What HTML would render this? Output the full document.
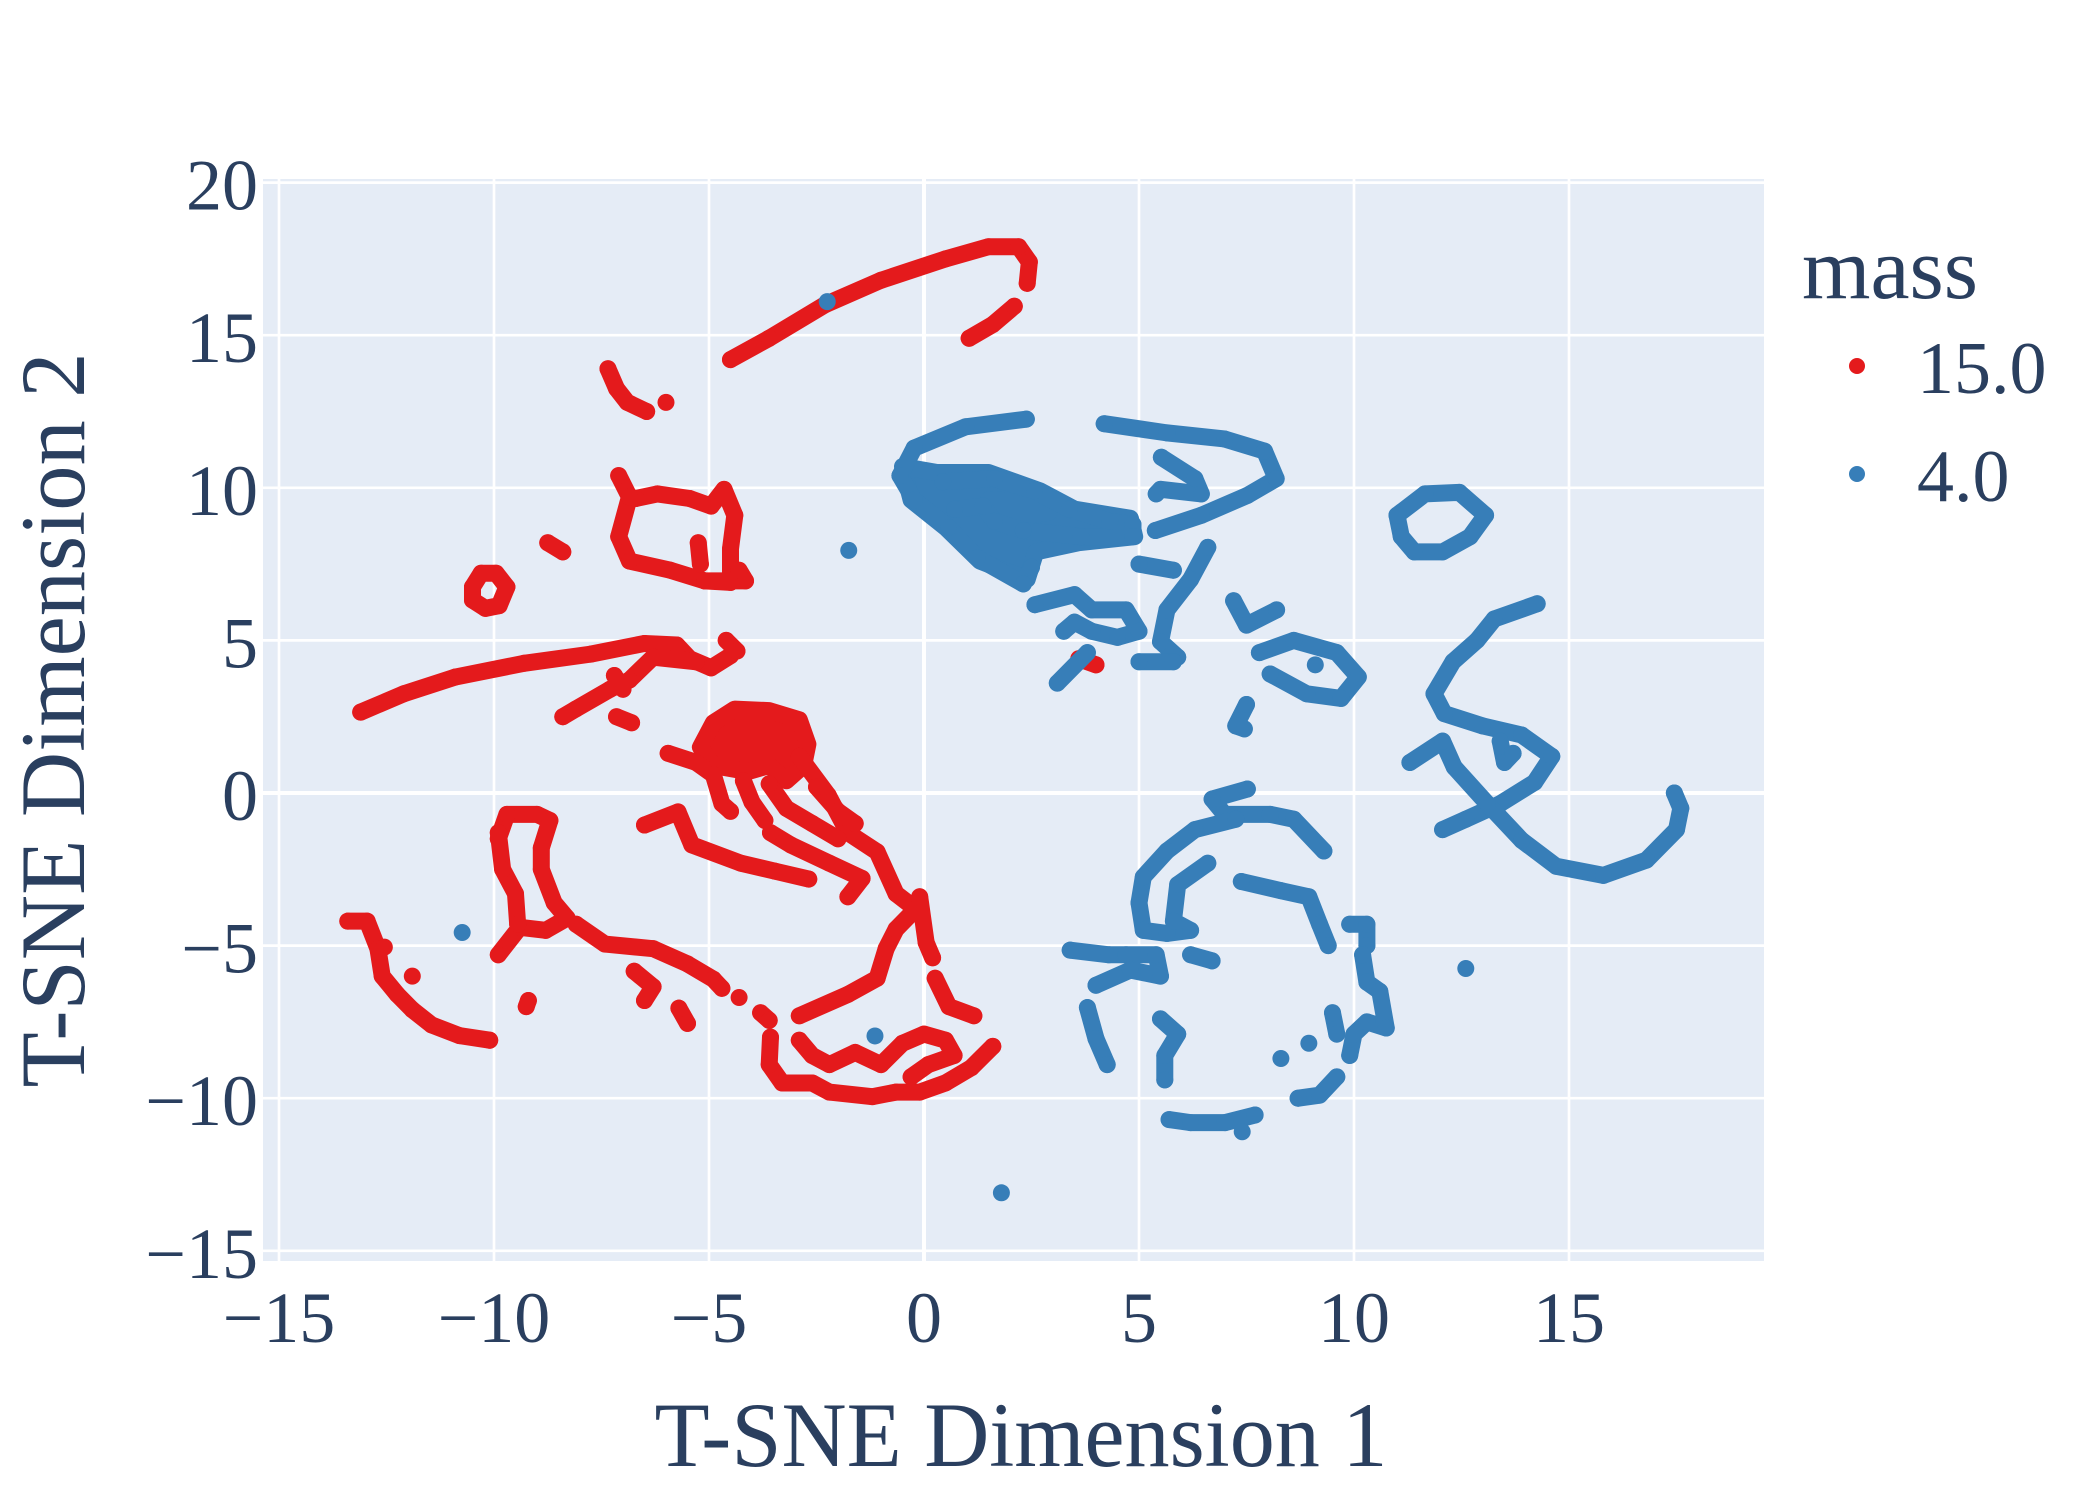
<!DOCTYPE html>
<html><head><meta charset="utf-8"><style>
html,body{margin:0;padding:0;background:#fff;}
svg{display:block;font-family:"Liberation Serif",serif;}
</style></head><body>
<svg id="chart" width="2100" height="1500" viewBox="0 0 2100 1500" xmlns="http://www.w3.org/2000/svg">
<rect x="263" y="179" width="1501" height="1082" fill="#e5ecf6"/>
<g id="grid"></g>
<g id="marks"></g>
<g id="axes"></g>
<text x="1021" y="1466" font-size="92" fill="#2a3f5f" text-anchor="middle" textLength="733" lengthAdjust="spacingAndGlyphs">T-SNE Dimension 1</text>
<text x="84" y="720" font-size="92" fill="#2a3f5f" text-anchor="middle" transform="rotate(-90 84 720)" textLength="735" lengthAdjust="spacingAndGlyphs">T-SNE Dimension 2</text>
<g>
<text x="1802" y="298" font-size="88" fill="#2a3f5f">mass</text>
<circle cx="1857" cy="366" r="8" fill="#e41a1c"/>
<text x="1917" y="393" font-size="74" fill="#2a3f5f">15.0</text>
<circle cx="1857" cy="474" r="8" fill="#377eb8"/>
<text x="1917" y="501" font-size="74" fill="#2a3f5f">4.0</text>
</g>
</svg>
<script>
const xTicks=[-15,-10,-5,0,5,10,15];
const yTicks=[-15,-10,-5,0,5,10,15,20];
const xTickLabels=["\u221215","\u221210","\u22125","0","5","10","15"];
const yTickLabels=["\u221215","\u221210","\u22125","0","5","10","15","20"];
const redDense=[[-4.9,2.3],[-4.4,2.75],[-3.6,2.7],[-2.9,2.4],[-2.7,1.6],[-2.8,0.9],[-3.2,0.4],[-3.6,0.9],[-4.1,0.7],[-4.9,0.9],[-5.2,1.5]];
const blueDense=[[-0.5,10.7],[0.3,10.5],[1.5,10.5],[2.7,9.9],[3.5,9.3],[4.8,9.0],[4.9,8.4],[3.6,8.2],[2.6,7.9],[2.4,7.0],[1.3,7.6],[0.5,8.7],[-0.3,9.6]];
const blueHole=[[1.5,9.6],[2.5,9.55],[2.9,9.2],[2.2,9.05],[1.6,9.2]];
const redSeries=[
[[-4.5,14.2],[-3.6,14.9],[-2.3,16.0],[-1,16.8],[0.5,17.5],[1.5,17.9],[2.2,17.9],[2.45,17.4],[2.4,16.7]],
[[1.05,14.9],[1.6,15.35],[2.1,15.95]],
[[-7.35,13.9],[-7.15,13.25],[-6.9,12.8],[-6.45,12.5]],
[[-6.0,12.8]],
[[-7.1,10.4],[-6.85,9.7],[-7.1,8.4],[-6.85,7.6],[-5.9,7.3],[-5.1,6.95],[-4.5,6.9],[-4.5,8.0],[-4.4,9.1],[-4.65,9.95],[-4.95,9.4],[-5.45,9.65],[-6.2,9.8],[-6.7,9.65],[-6.85,9.7]],
[[-5.1,6.95],[-4.15,6.95],[-4.3,7.3]],[[-5.2,7.5],[-5.25,8.2]],
[[-10.5,6.75],[-10.3,7.2],[-9.95,7.2],[-9.7,6.75],[-9.88,6.14],[-10.2,6.05],[-10.5,6.32],[-10.5,6.75]],
[[-8.75,8.2],[-8.4,7.9]],
[[-13.1,2.65],[-12.1,3.25],[-10.9,3.8],[-9.3,4.25],[-7.75,4.55],[-6.5,4.9],[-5.75,4.85],[-5.45,4.4],[-4.95,4.1],[-4.5,4.5]],
[[-4.6,5.0],[-4.35,4.65]],
[[-5.3,4.3],[-6.3,4.45],[-6.85,3.7],[-7.3,3.4],[-8.1,2.75],[-8.4,2.5]],
[[-7.2,3.85],[-7.0,3.4]],[[-7.15,2.5],[-6.8,2.3]],
[[-5.95,1.3],[-5.3,1.0],[-4.9,0.6],[-4.7,-0.35],[-4.5,-0.6]],
[[-2.9,1.2],[-2.23,-0.07],[-1.77,-1.3],[-1.09,-1.93],[-0.65,-3.3],[-0.19,-3.8],[-0.65,-4.46],[-0.88,-5.1],[-1.09,-6.07],[-1.77,-6.6],[-2.9,-7.3]],
[[-0.1,-3.4],[0.05,-4.9],[0.2,-5.4]],
[[0.26,-6.07],[0.58,-7.0],[1.16,-7.3]],
[[-6.5,-1.05],[-5.72,-0.62],[-5.4,-1.7],[-4.26,-2.3],[-3.47,-2.56],[-2.68,-2.82]],
[[-3.57,-1.3],[-3.1,-1.7],[-2.2,-2.3],[-1.44,-2.8],[-1.77,-3.4]],
[[-3.6,0.3],[-3.2,-0.5],[-2.6,-1.0],[-2.0,-1.5]],
[[-4.2,0.4],[-4.0,-0.3],[-3.7,-0.9]],[[-2.5,0.2],[-2.0,-0.6],[-1.6,-1.0]],
[[-3.57,-8.0],[-3.6,-8.9],[-3.3,-9.5],[-2.6,-9.5],[-2.2,-9.8],[-1.2,-9.95],[-0.65,-9.8],[-0.1,-9.8],[0.5,-9.5],[1.1,-9.0],[1.6,-8.3]],
[[-2.9,-8.1],[-2.6,-8.6],[-2.2,-8.9],[-1.6,-8.5],[-1.0,-8.9],[-0.5,-8.2],[0.0,-7.9],[0.5,-8.1],[0.7,-8.6],[0.1,-8.9],[-0.3,-9.3]],
[[-9.9,-1.5],[-9.7,-0.7],[-9.0,-0.7],[-8.7,-0.9],[-8.9,-1.8],[-8.9,-2.5],[-8.6,-3.6],[-8.3,-4.1],[-8.8,-4.5],[-9.4,-4.4],[-9.9,-5.3]],
[[-9.9,-1.3],[-9.8,-2.5],[-9.5,-3.3],[-9.45,-4.3]],
[[-8.09,-4.3],[-7.42,-4.95],[-6.3,-5.1],[-5.5,-5.6],[-4.9,-6.1],[-4.7,-6.4]],
[[-6.74,-5.84],[-6.3,-6.35],[-6.5,-6.8]],[[-5.7,-7.05],[-5.5,-7.55]],
[[-4.3,-6.7]],[[-3.8,-7.2],[-3.6,-7.45]],
[[-9.2,-6.8],[-9.25,-7.0]],
[[-13.4,-4.2],[-12.95,-4.2],[-12.7,-5.1],[-12.6,-6.0],[-12.25,-6.6],[-11.9,-7.1],[-11.45,-7.6],[-10.8,-7.95],[-10.1,-8.1]],
[[-11.9,-6.0]],[[-12.55,-5.05]],
[[3.6,4.4],[4.0,4.2]]
];
const blueSeries=[
[[-2.25,16.1]],[[-1.75,7.95]],[[-10.74,-4.57]],[[-1.14,-7.96]],[[1.8,-13.1]],[[12.6,-5.75]],
[[2.38,12.25],[0.97,12.0],[-0.23,11.3],[-0.56,10.4],[-0.23,9.6],[0.57,8.7],[1.24,7.7],[2.31,6.85],[2.5,7.4]],
[[0.44,10.2],[1.64,10.3],[2.57,9.9],[3.38,9.3],[4.32,8.9],[4.86,8.8],[4.86,8.4],[3.65,8.4],[2.31,8.6],[1.64,8.9],[1.37,9.4],[0.71,9.3]],
[[4.19,12.1],[5.65,11.8],[6.99,11.6],[7.92,11.2],[8.19,10.3],[7.52,9.75],[6.45,9.1],[5.38,8.6]],
[[5.52,11.0],[6.3,10.3],[6.45,9.8],[5.5,9.95],[5.4,9.8]],
[[6.6,8.05],[6.2,7.0],[5.65,6.0],[5.5,4.96],[5.9,4.45]],
[[5.0,7.5],[5.8,7.3]],
[[2.58,6.17],[3.5,6.5],[3.9,6.0],[4.7,6.0],[5.0,5.3],[4.5,5.1],[3.9,5.3],[3.5,5.6],[3.25,5.3]],
[[3.8,4.6],[3.1,3.6]],[[5.0,4.3],[5.8,4.3]],
[[7.2,6.3],[7.5,5.5],[8.2,6.0]],
[[7.8,4.6],[8.6,5.0],[9.6,4.6],[10.1,3.8],[9.7,3.1],[8.9,3.25],[8.05,3.9]],[[9.1,4.2]],
[[7.5,2.9],[7.25,2.2],[7.45,2.1]],
[[11.1,8.4],[11.0,9.1],[11.65,9.8],[12.45,9.85],[13.06,9.1],[12.7,8.4],[12.06,7.9],[11.4,7.9],[11.1,8.4]],
[[14.26,6.2],[13.26,5.7],[12.86,5.0],[12.3,4.3],[11.86,3.25],[12.1,2.6],[12.99,2.2],[13.9,1.9],[14.6,1.2],[14.2,0.35],[13.4,-0.35],[12.6,-0.86],[12.06,-1.2]],
[[11.3,1.0],[12.06,1.7],[12.33,0.85],[13.1,-0.35],[13.9,-1.55],[14.7,-2.4],[15.8,-2.7],[16.8,-2.2],[17.5,-1.2],[17.6,-0.5],[17.45,0.0]],
[[13.4,1.7],[13.5,1.0],[13.7,1.3]],
[[7.52,0.13],[6.7,-0.2],[6.99,-0.7],[8.05,-0.7],[8.6,-0.86],[9.3,-1.9]],
[[7.25,-0.86],[6.3,-1.2],[5.65,-1.9],[5.1,-2.75],[5.0,-3.6],[5.1,-4.5],[5.65,-4.6],[6.2,-4.5],[5.8,-4.2],[5.9,-3.0],[6.6,-2.3]],
[[3.4,-5.15],[4.3,-5.3],[4.7,-5.3],[5.4,-5.3],[5.5,-6.0],[4.8,-5.8],[4.0,-6.3]],[[6.2,-5.3],[6.7,-5.5]],
[[3.8,-7.03],[4.0,-8.05],[4.26,-8.9]],
[[5.5,-7.4],[5.9,-7.9],[5.6,-8.6],[5.6,-9.4]],
[[7.38,-2.9],[8.3,-3.2],[8.95,-3.4],[9.2,-4.3],[9.4,-5.0]],[[9.9,-4.3],[10.3,-4.3],[10.3,-5.0]],
[[10.2,-5.3],[10.3,-6.2],[10.6,-6.5],[10.75,-7.7],[10.3,-7.5],[10.0,-7.9],[9.9,-8.6]],[[9.5,-7.2],[9.6,-7.9]],
[[8.95,-8.2]],[[8.3,-8.7]],
[[9.6,-9.3],[9.2,-9.9],[8.7,-10.0]],
[[5.7,-10.7],[6.2,-10.8],[7.0,-10.8],[7.7,-10.55]],[[7.4,-11.1]]
];
const NS="http://www.w3.org/2000/svg";
const X0=263,X1=1764,Y0=1261,Y1=179;
const PXU=43.0,PYU=30.52,XZ=924,YZ=793;
function xs(v){return XZ+v*PXU;}
function ys(v){return YZ-v*PYU;}
function mk(tag){return document.createElementNS(NS,tag);}
const grid=document.getElementById('grid');
const axes=document.getElementById('axes');
xTicks.forEach((t,i)=>{
  const l=mk('line');
  
  
  l.setAttribute('x1',xs(t));l.setAttribute('x2',xs(t));l.setAttribute('y1',Y1);l.setAttribute('y2',Y0);
  l.setAttribute('stroke','#fff');l.setAttribute('stroke-width',t===0?4:2.7);
  grid.appendChild(l);
  const tx=mk('text');
  
  
  tx.setAttribute('x',xs(t));tx.setAttribute('y',1342);tx.setAttribute('font-size','72');
  tx.setAttribute('fill','#2a3f5f');tx.setAttribute('text-anchor','middle');
  tx.textContent=xTickLabels[i];axes.appendChild(tx);
});
yTicks.forEach((t,i)=>{
  const l=mk('line');
  
  
  l.setAttribute('y1',ys(t));l.setAttribute('y2',ys(t));l.setAttribute('x1',X0);l.setAttribute('x2',X1);
  l.setAttribute('stroke','#fff');l.setAttribute('stroke-width',t===0?4:2.7);
  grid.appendChild(l);
  const tx=mk('text');
  
  
  tx.setAttribute('x',258);tx.setAttribute('y',ys(t)+27);tx.setAttribute('font-size','72');
  tx.setAttribute('fill','#2a3f5f');tx.setAttribute('text-anchor','end');
  tx.textContent=yTickLabels[i];axes.appendChild(tx);
});
const marks=document.getElementById('marks');
function ptStr(pts){return pts.map((q,i)=>(i?'L':'M')+xs(q[0])+' '+ys(q[1])).join(' ')+' Z';}
function dense(pts,hole,color,name){
  const p=mk('path');
  
  
  p.setAttribute('d',ptStr(pts)+(hole?' '+ptStr(hole):''));
  p.setAttribute('fill-rule','evenodd');
  p.setAttribute('fill',color);p.setAttribute('stroke',color);p.setAttribute('stroke-width','17');p.setAttribute('stroke-linejoin','round');
  marks.appendChild(p);
}
function series(list,color,name){
  list.forEach(seg=>{
    if(seg.length>1){
      const pl=mk('polyline');
      
      
      pl.setAttribute('points',seg.map(q=>xs(q[0])+','+ys(q[1])).join(' '));
      pl.setAttribute('fill','none');pl.setAttribute('stroke',color);pl.setAttribute('stroke-width','17');
      pl.setAttribute('stroke-linecap','round');pl.setAttribute('stroke-linejoin','round');
      marks.appendChild(pl);
    }
    seg.forEach(q=>{
      const c=mk('circle');
      
      
      c.setAttribute('cx',xs(q[0]));c.setAttribute('cy',ys(q[1]));c.setAttribute('r','8.5');c.setAttribute('fill',color);
      marks.appendChild(c);
    });
  });
}
dense(redDense,null,'#e41a1c','red-dense-cluster');
dense(blueDense,blueHole,'#377eb8','blue-dense-cluster');
series(redSeries,'#e41a1c','mass-15');
series(blueSeries,'#377eb8','mass-4');
</script>
</body></html>
